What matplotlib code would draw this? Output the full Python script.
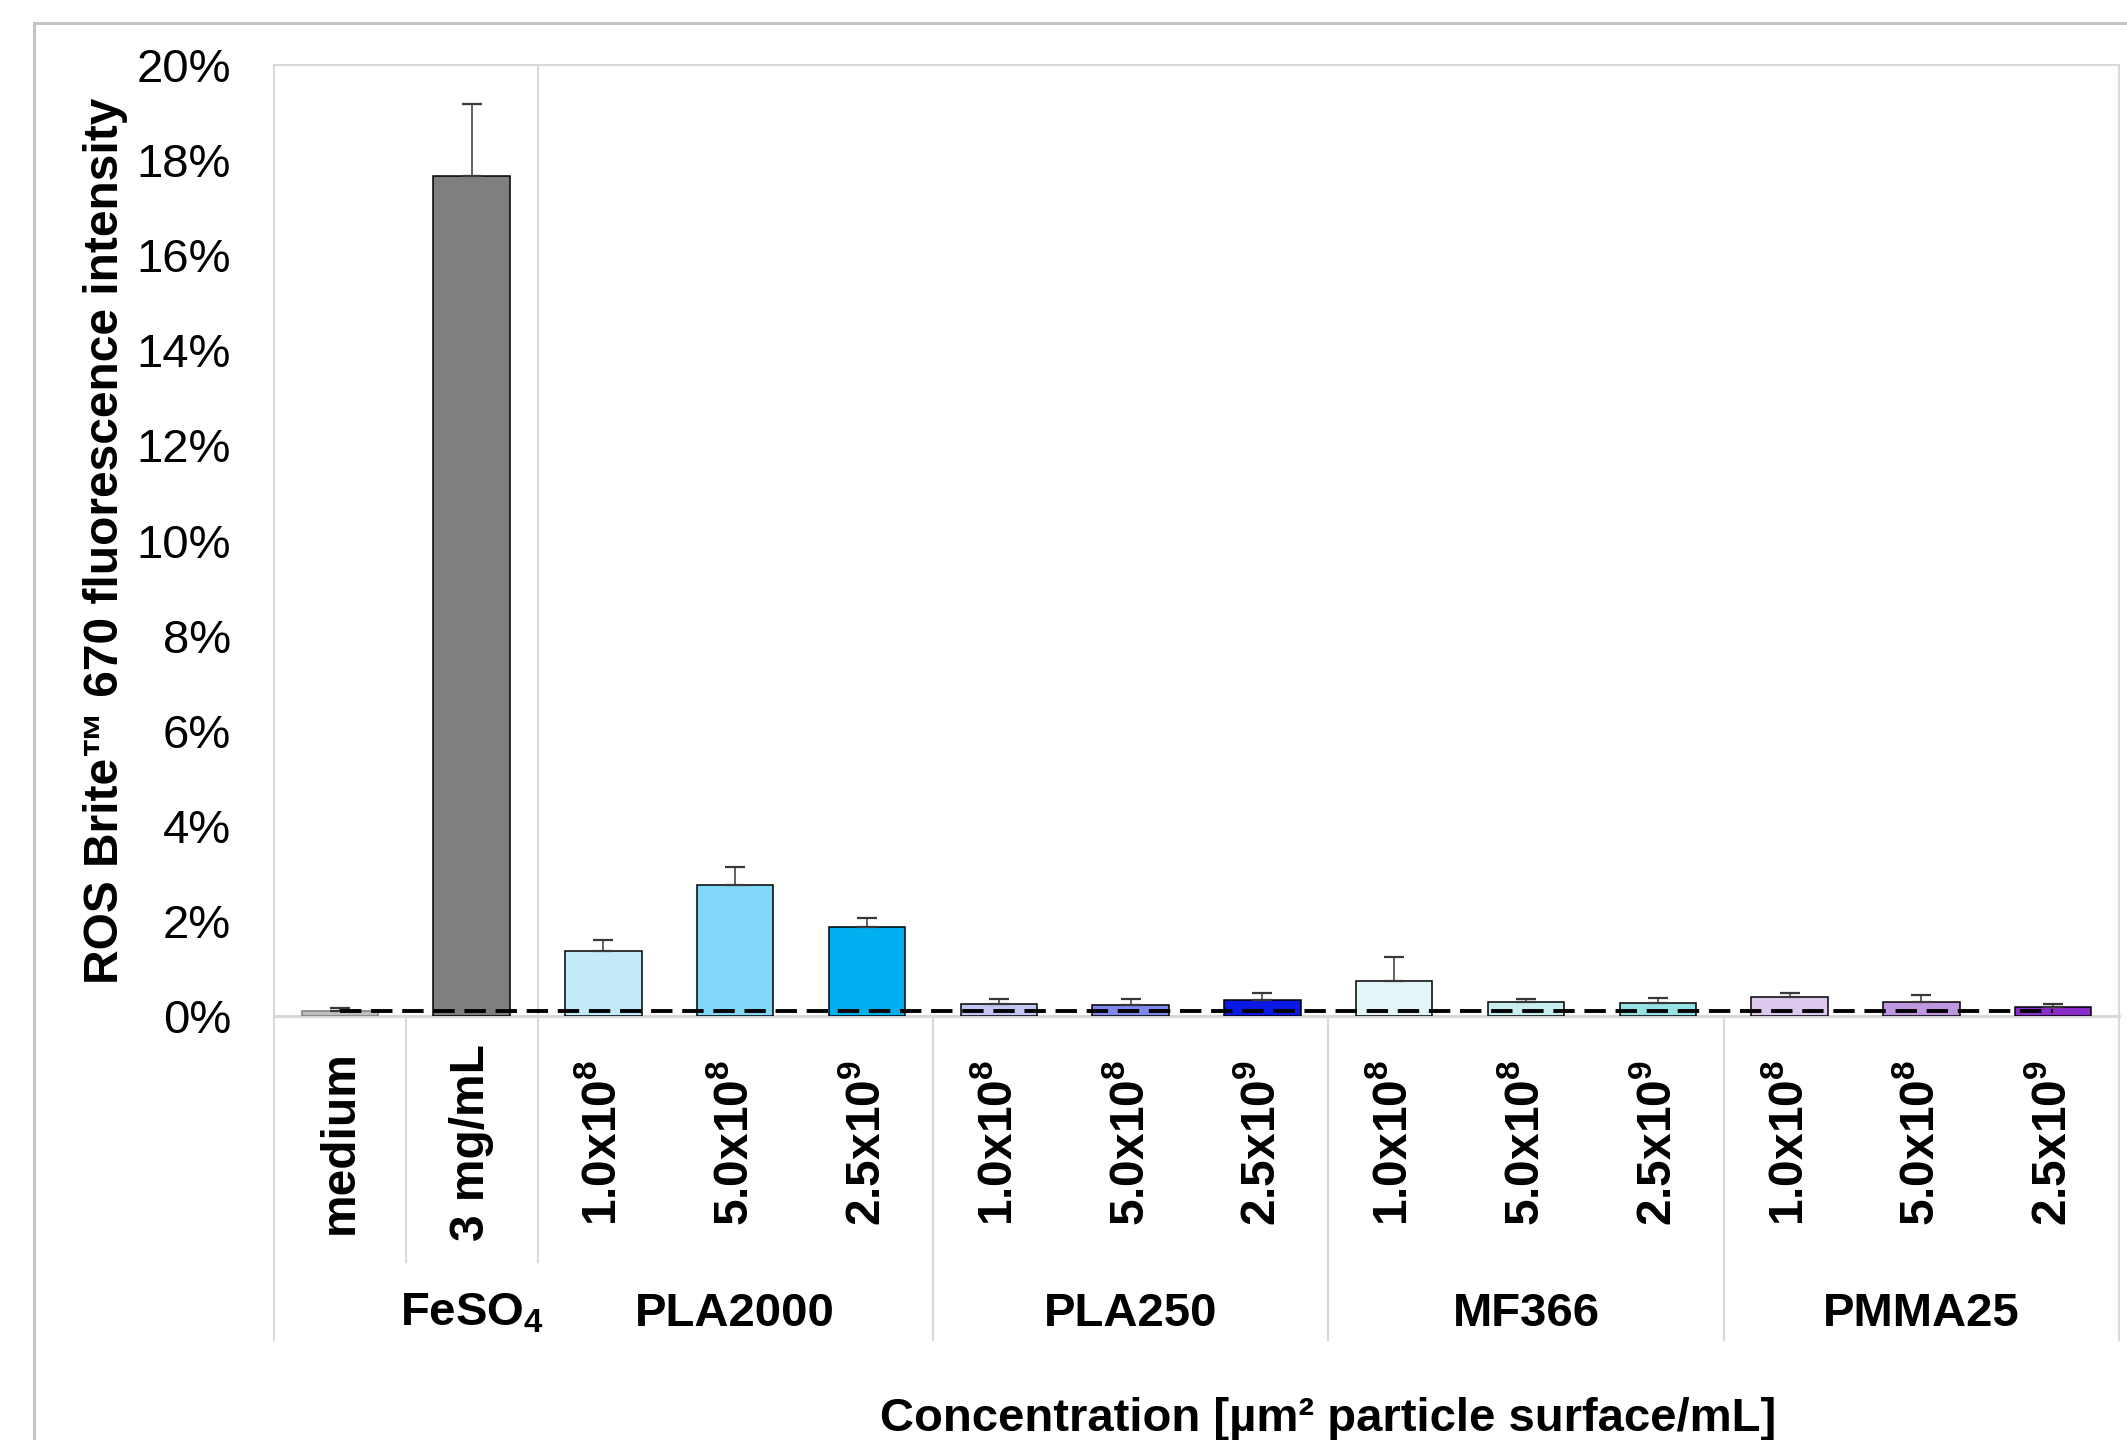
import matplotlib
matplotlib.use("Agg")
import matplotlib.pyplot as plt
import matplotlib.transforms as mtransforms
from matplotlib.lines import Line2D
import numpy as np

plt.rcParams['font.family'] = ['Liberation Sans', 'DejaVu Sans']
plt.rcParams['mathtext.fontset'] = 'custom'
plt.rcParams['mathtext.rm'] = 'Liberation Sans'
plt.rcParams['mathtext.bf'] = 'Liberation Sans:bold'

# values, in %
tick_labels = ['medium', '3 mg/mL',
               r'1.0x10$^{\mathbf{8}}$', r'5.0x10$^{\mathbf{8}}$', r'2.5x10$^{\mathbf{9}}$',
               r'1.0x10$^{\mathbf{8}}$', r'5.0x10$^{\mathbf{8}}$', r'2.5x10$^{\mathbf{9}}$',
               r'1.0x10$^{\mathbf{8}}$', r'5.0x10$^{\mathbf{8}}$', r'2.5x10$^{\mathbf{9}}$',
               r'1.0x10$^{\mathbf{8}}$', r'5.0x10$^{\mathbf{8}}$', r'2.5x10$^{\mathbf{9}}$']
values = [0.11, 17.67, 1.36, 2.76, 1.87, 0.25, 0.23, 0.33, 0.73, 0.29, 0.27, 0.41, 0.30, 0.19]
errors = [0.05, 1.52, 0.23, 0.38, 0.19, 0.10, 0.13, 0.15, 0.51, 0.06, 0.11, 0.07, 0.15, 0.06]
colors = ['#BFBFBF', '#7F7F7F',
          '#C3EAF9', '#80D7F8', '#00B0F0',
          '#C3C6F4', '#8088EC', '#0A1AE4',
          '#E2F5F7', '#C9EEEF', '#97E0E4',
          '#DDC8EE', '#BF97E1', '#8A2DCB']
edges = ['#7F7F7F'] + ['black'] * 13

group_names = [r'FeSO$_{\mathbf{4}}$', 'PLA2000', 'PLA250', 'MF366', 'PMMA25']
group_pos = [1, 3, 6, 9, 12]
medium_level = 0.11

W, H = 2127, 1440
fig = plt.figure(figsize=(W / 100, H / 100), dpi=100)
ax = fig.add_axes([274 / W, 1 - 1016 / H, 1845 / W, 951 / H])

x = np.arange(len(values))
ax.bar(x, values, width=0.58, color=colors, edgecolor=edges, linewidth=1.1, zorder=3)
ax.errorbar(x, values, yerr=[np.zeros(len(x)), errors], fmt='none', ecolor='#383838',
            elinewidth=1.1, capsize=7, capthick=1.6, zorder=4)
ax.plot([x[0], x[-1]], [medium_level, medium_level], color='black', lw=2.8,
        ls=(0, (5.5, 2.5)), zorder=5)

ax.set_xlim(-0.5, 13.5)
ax.set_ylim(0, 20)
ax.set_yticks(np.arange(0, 21, 2))
ax.set_yticklabels([f'{v}%' for v in range(0, 21, 2)], fontsize=34)
ax.tick_params(axis='y', length=0, pad=31)
ax.set_xticks([])

grey = '#D9D9D9'
for s in ['left', 'right']:
    ax.spines[s].set_visible(False)
ax.spines['top'].set_color(grey)
ax.spines['top'].set_linewidth(1.5)
ax.spines['bottom'].set_color(grey)
ax.spines['bottom'].set_linewidth(2.2)

ax.set_ylabel('ROS Brite™ 670 fluorescence intensity', fontsize=34.5, fontweight='bold')
ax.yaxis.set_label_coords(-0.079, 0.5)

trans = mtransforms.blended_transform_factory(ax.transData, ax.transAxes)
# plot-area edges and category separators
for xs in [-0.5, 13.5]:
    ax.add_line(Line2D([xs, xs], [1, -0.341], transform=trans, color=grey, lw=1.5, clip_on=False))
for xs in [4.5, 7.5, 10.5]:
    ax.add_line(Line2D([xs, xs], [0, -0.341], transform=trans, color=grey, lw=1.5, clip_on=False))
ax.add_line(Line2D([0.5, 0.5], [0, -0.259], transform=trans, color=grey, lw=1.5, clip_on=False))
ax.add_line(Line2D([1.5, 1.5], [1, -0.259], transform=trans, color=grey, lw=1.5, clip_on=False))

for xi, lab in zip(x, tick_labels):
    ax.text(xi, -0.133, lab, transform=trans, rotation=90, ha='center', va='center',
            fontsize=34.5, fontweight='bold')

for gp, gn in zip(group_pos, group_names):
    ax.text(gp, -0.313, gn, transform=trans, ha='center', va='center',
            fontsize=34, fontweight='bold')

ax.text(7.5, -0.424, 'Concentration [µm² particle surface/mL]', transform=trans,
        ha='center', va='center', fontsize=34, fontweight='bold')

# outer frame
fig.add_artist(Line2D([34 / W, 1.0], [1 - 23 / H, 1 - 23 / H], transform=fig.transFigure,
                      color='#C4C4C4', lw=2.2))
fig.add_artist(Line2D([34 / W, 34 / W], [1 - 23 / H, 0.0], transform=fig.transFigure,
                      color='#C4C4C4', lw=2.2))

fig.savefig('out.png', dpi=100)
